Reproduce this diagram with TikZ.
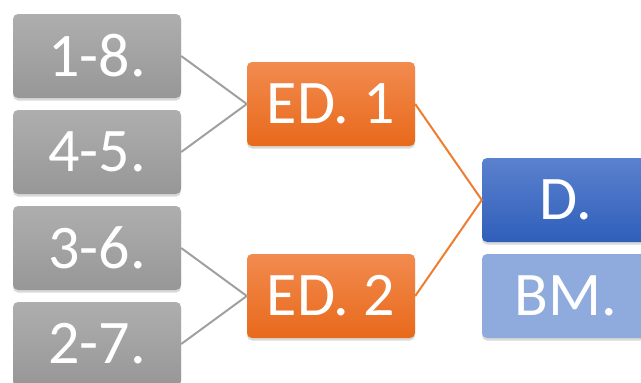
\documentclass[tikz,border=0pt]{standalone}
\usepackage{fontspec}
\setmainfont{Carlito}
\usetikzlibrary{shadows}
\definecolor{grayTop}{HTML}{AEAEAE}
\definecolor{grayBot}{HTML}{979797}
\definecolor{orangeTop}{HTML}{F28B4F}
\definecolor{orangeBot}{HTML}{E8691B}
\definecolor{blueTop}{HTML}{5B81CE}
\definecolor{blueBot}{HTML}{2F5FBA}
\definecolor{blueLight}{HTML}{8FAADC}
\definecolor{grayLine}{HTML}{A0A0A0}
\definecolor{orangeLine}{HTML}{ED7D31}
\begin{document}
\begin{tikzpicture}[x=1pt,y=-1pt,
    box/.style={rounded corners=5pt, minimum width=168pt, minimum height=84pt,
        inner sep=0pt, text=white, font=\fontsize{62}{70}\selectfont,
        drop shadow={shadow xshift=0pt, shadow yshift=-2.5pt, opacity=0.3}},
    pairbox/.style={box, top color=grayTop, bottom color=grayBot},
    edbox/.style={box, top color=orangeTop, bottom color=orangeBot},
    dbox/.style={box, top color=blueTop, bottom color=blueBot},
    bmbox/.style={box, fill=blueLight},
    grayLink/.style={draw=grayLine, line width=2pt},
    orangeLink/.style={draw=orangeLine, line width=2pt}]
            \useasboundingbox (0,0) rectangle (641,383);

            \node[pairbox] (p18) at (97,56) {1-8.};
            \node[pairbox] (p45) at (97,152) {4-5.};
            \node[pairbox] (p36) at (97,248) {3-6.};
            \node[pairbox] (p27) at (97,344) {2-7.};

            \node[edbox] (ed1) at (331,104) {ED. 1};
            \node[edbox] (ed2) at (331,296) {ED. 2};

            \node[dbox] (d) at (566,200) {D.};
            \node[bmbox] (bm) at (566,296) {BM.};

            \draw[grayLink] (p18.east) -- (ed1.west) -- (p45.east);
            \draw[grayLink] (p36.east) -- (ed2.west) -- (p27.east);
            \draw[orangeLink] (ed1.east) -- (d.west) -- (ed2.east);
        \end{tikzpicture}
\end{document}
